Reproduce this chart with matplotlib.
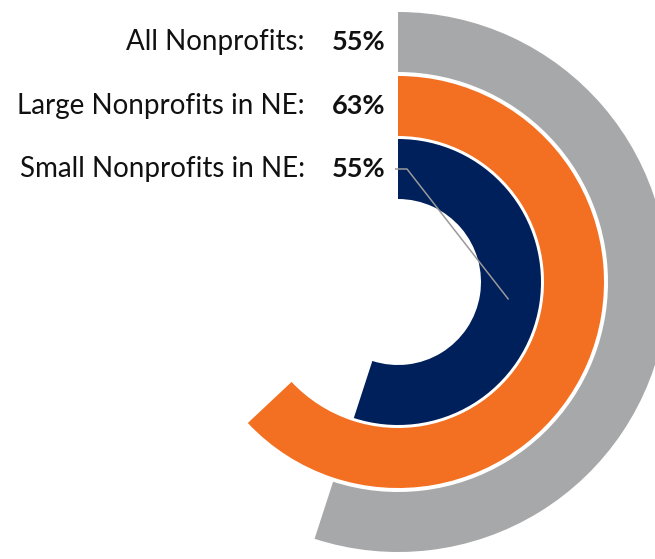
import numpy as np
import matplotlib.pyplot as plt
from matplotlib.patches import Wedge

# share of each group (outer ring first)
groups = ["All Nonprofits:", "Large Nonprofits in NE:", "Small Nonprofits in NE:"]
shares = [55, 63, 55]
colors = ["#A7A8AA", "#F36F21", "#00205B"]

W, H = 655, 559
cx, cy = 398, H - 282
rings = [(210, 270), (146, 206), (83, 143)]  # inner, outer radius in px

fig = plt.figure(figsize=(W / 100, H / 100), dpi=100)
ax = fig.add_axes([0, 0, 1, 1])
ax.set_xlim(0, W)
ax.set_ylim(0, H)
ax.set_aspect("equal")
ax.axis("off")

for (r_in, r_out), pct, col, name in zip(rings, shares, colors, groups):
    # ring starts at 12 o'clock and runs clockwise
    ax.add_patch(Wedge((cx, cy), r_out, 90 - 3.6 * pct, 90,
                       width=r_out - r_in, facecolor=col, edgecolor="none"))
    ymid = cy + (r_in + r_out) / 2
    ax.text(305, ymid, name, ha="right", va="center", fontsize=20,
            family="Lato", color="#111111")
    ax.text(385, ymid, f"{pct}%", ha="right", va="center", fontsize=19.5,
            family="Lato", fontweight="bold", color="#111111")

# leader from the inner label into the navy ring
r_in, r_out = rings[2]
r_mid = (r_in + r_out) / 2
ang = np.deg2rad(90 - 99)
ly = cy + r_mid
ex, ey = cx + (r_mid - 1) * np.cos(ang), cy + (r_mid - 1) * np.sin(ang)
ax.plot([395, 407, ex], [ly, ly, ey], color="#999999", lw=1.1,
        solid_capstyle="butt")

fig.savefig("out.png", dpi=100)
